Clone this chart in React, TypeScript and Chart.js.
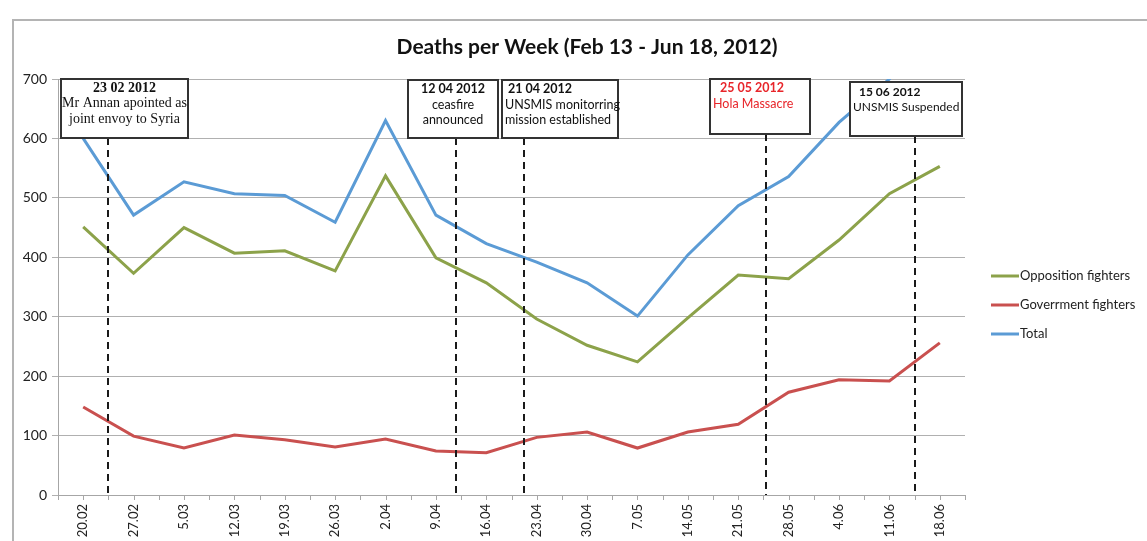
import React, { useEffect, useRef } from 'react';
import { Chart, registerables } from 'chart.js';

Chart.register(...registerables);

// ---- data ----
const categories = ['20.02', '27.02', '5.03', '12.03', '19.03', '26.03', '2.04', '9.04', '16.04', '23.04', '30.04', '7.05', '14.05', '21.05', '28.05', '4.06', '11.06', '18.06'];
const opposition = [451, 373, 450, 407, 411, 377, 537, 399, 357, 296, 252, 224, 298, 370, 364, 429, 507, 553];
const government = [148, 99, 79, 101, 93, 81, 94, 74, 71, 97, 106, 79, 106, 119, 173, 194, 192, 256];
const total = [600, 471, 527, 507, 504, 459, 630, 471, 423, 392, 357, 301, 404, 487, 536, 627, 700, 810];
const seriesNames = ['Opposition fighters', 'Goverrment fighters', 'Total'];
const seriesColors = ['#8ca24a', '#c9504f', '#5b9bd5'];
const yMin = 0;
const yMax = 700;
const yStep = 100;
const titleText = 'Deaths per Week (Feb 13 - Jun 18, 2012)';

// events: position in category-index units
const eventPositions = [0.5, 7.4, 8.75, 13.55, 16.5];
const eventDates = ['23 02 2012', '12 04 2012', '21 04 2012', '25 05 2012', '15 06 2012'];
const eventLines = [
  ['Mr Annan apointed as', 'joint envoy to Syria'],
  ['ceasfire', 'announced'],
  ['UNSMIS monitorring', 'mission established'],
  ['Hola Massacre'],
  ['UNSMIS Suspended'],
];

// ---- styles for event boxes (pixel offsets relative to dashed line) ----
const boxStyles = [
  { dx: -47, w: 127, top: 79, h: 59, align: 'center', pad: 0, pad2: 0, font: 'Liberation Serif', size: 14, color: '#111', ty: 9 },
  { dx: -48, w: 90, top: 80, h: 58, align: 'center', pad: 0, pad2: 0, font: 'Lato', size: 12.5, color: '#111', ty: 9 },
  { dx: -22, w: 116, top: 80, h: 58, align: 'left', pad: 6, pad2: 3, font: 'Lato', size: 12.5, color: '#111', ty: 9 },
  { dx: -56, w: 100, top: 79, h: 55, align: 'left', pad: 10, pad2: 3, font: 'Lato', size: 12.5, color: '#e8252a', ty: 9 },
  { dx: -65, w: 112, top: 82, h: 54, align: 'left', pad: 9, pad2: 3, font: 'Lato', size: 12, color: '#111', ty: 10 },
];

const overlayPlugin = {
  id: 'overlay',
  afterDraw(chart: any) {
    const ctx: CanvasRenderingContext2D = chart.ctx;
    const xs = chart.scales.x;
    const area = chart.chartArea;
    ctx.save();

    // outer frame
    ctx.strokeStyle = '#b4b4b4';
    ctx.lineWidth = 2;
    ctx.beginPath();
    ctx.moveTo(13, chart.height);
    ctx.lineTo(13, 20);
    ctx.lineTo(chart.width, 20);
    ctx.stroke();

    // title
    ctx.fillStyle = '#111';
    ctx.font = 'bold 21px Lato';
    ctx.textAlign = 'center';
    ctx.textBaseline = 'middle';
    ctx.fillText(titleText, 587, 47);

    // x tick marks (category centres and boundaries)
    ctx.strokeStyle = '#a6a6a6';
    ctx.lineWidth = 1;
    const n = categories.length;
    ctx.beginPath();
    for (let i = 0; i <= 2 * n; i++) {
      const px = Math.round(xs.getPixelForValue(-0.5 + i / 2)) + 0.5;
      ctx.moveTo(px, area.bottom);
      ctx.lineTo(px, area.bottom + 5);
    }
    ctx.stroke();

    // events
    eventPositions.forEach((pos, i) => {
      const st = boxStyles[i];
      const px = Math.round(xs.getPixelForValue(pos));
      const left = px + st.dx;
      // dashed line
      ctx.strokeStyle = '#1a1a1a';
      ctx.lineWidth = 2;
      ctx.setLineDash([7, 5]);
      ctx.beginPath();
      ctx.moveTo(px, st.top + st.h);
      ctx.lineTo(px, area.bottom);
      ctx.stroke();
      ctx.setLineDash([]);
      // box
      ctx.fillStyle = '#ffffff';
      ctx.fillRect(left, st.top, st.w, st.h);
      ctx.strokeStyle = '#333';
      ctx.lineWidth = 2;
      ctx.strokeRect(left, st.top, st.w, st.h);
      // text
      ctx.fillStyle = st.color;
      ctx.textBaseline = 'middle';
      ctx.textAlign = st.align as CanvasTextAlign;
      const cx = st.align === 'center' ? left + st.w / 2 : left + st.pad;
      const cx2 = st.align === 'center' ? left + st.w / 2 : left + st.pad2;
      ctx.font = `bold ${st.size}px ${st.font}`;
      ctx.fillText(eventDates[i], cx, st.top + st.ty);
      ctx.font = `${st.size}px ${st.font}`;
      eventLines[i].forEach((line, j) => {
        ctx.fillText(line, cx2, st.top + st.ty + 15.5 * (j + 1));
      });
    });

    // legend
    const legendY = [276, 305, 334];
    seriesNames.forEach((name, i) => {
      ctx.strokeStyle = seriesColors[i];
      ctx.lineWidth = 3;
      ctx.beginPath();
      ctx.moveTo(991, legendY[i]);
      ctx.lineTo(1019, legendY[i]);
      ctx.stroke();
      ctx.fillStyle = '#222';
      ctx.font = '13px Lato';
      ctx.textAlign = 'left';
      ctx.textBaseline = 'middle';
      ctx.fillText(name, 1020, legendY[i]);
    });

    ctx.restore();
  },
};

export default function App() {
  const canvasRef = useRef<HTMLCanvasElement | null>(null);

  useEffect(() => {
    document.body.style.margin = '0';
    const canvas = canvasRef.current;
    if (!canvas) return;
    const seriesData = [opposition, government, total];
    const chart = new Chart(canvas, {
      type: 'line',
      data: {
        labels: categories,
        datasets: seriesNames.map((name, i) => ({
          label: name,
          data: seriesData[i],
          borderColor: seriesColors[i],
          backgroundColor: seriesColors[i],
          borderWidth: 3,
          pointRadius: 0,
          tension: 0,
          fill: false,
        })),
      },
      options: {
        responsive: false,
        animation: false,
        layout: { padding: { left: 0, top: 79, right: 182, bottom: 0 } },
        plugins: {
          legend: { display: false },
          title: { display: false },
          tooltip: { enabled: false },
        },
        scales: {
          x: {
            type: 'category',
            offset: true,
            grid: { display: true, drawOnChartArea: false, drawTicks: false, color: 'rgba(0,0,0,0)' },
            border: { display: true, color: '#a6a6a6', width: 1 },
            ticks: {
              autoSkip: false,
              minRotation: 90,
              maxRotation: 90,
              padding: 9,
              color: '#222',
              font: { family: 'Lato', size: 13 },
            },
            afterFit(scale: any) {
              scale.height = 46;
            },
          },
          y: {
            min: yMin,
            max: yMax,
            ticks: {
              stepSize: yStep,
              padding: 5,
              color: '#222',
              font: { family: 'Lato', size: 14 },
            },
            grid: { color: '#b0b0b0', lineWidth: 1, tickLength: 6, drawTicks: true },
            border: { display: true, color: '#a6a6a6', width: 1 },
            afterFit(scale: any) {
              scale.width = 58;
            },
          },
        },
      },
      plugins: [overlayPlugin],
    } as any);
    return () => chart.destroy();
  }, []);

  return (
    <div style={{ position: 'fixed', left: 0, top: 0, width: 1147, height: 541, background: '#fff' }}>
      <canvas ref={canvasRef} width={1147} height={541} style={{ display: 'block' }} />
    </div>
  );
}
